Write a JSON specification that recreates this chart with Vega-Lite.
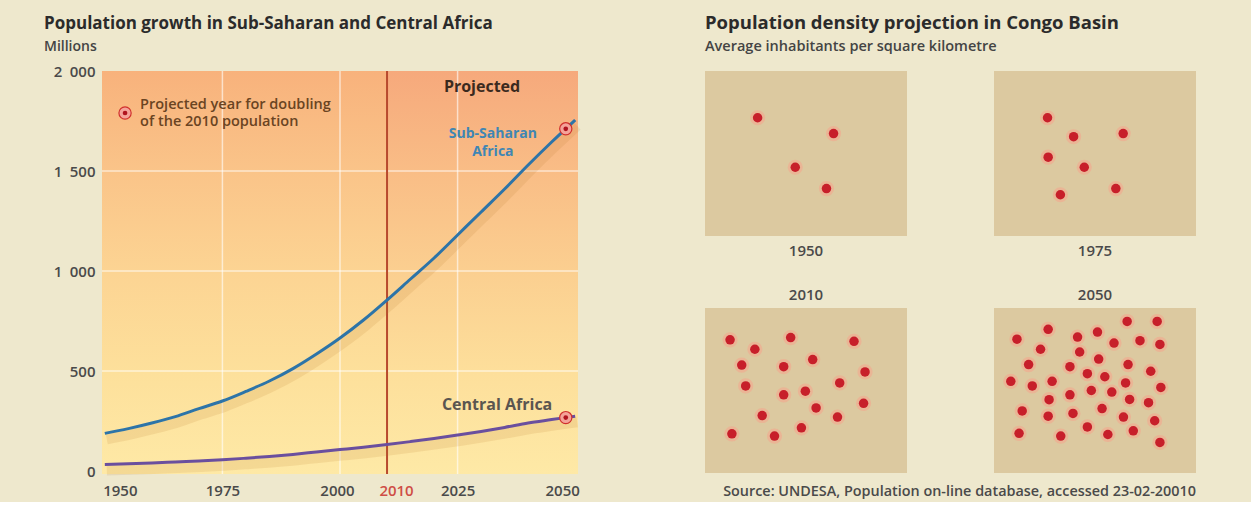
{
  "$schema": "https://vega.github.io/schema/vega-lite/v6.json",
  "background": "#eee8cd",
  "padding": {"left": 44, "top": 14, "right": 56, "bottom": 3},
  "spacing": 107,
  "config": {
    "font": "Open Sans",
    "view": {"stroke": null},
    "title": {"font": "Open Sans", "fontSize": 17, "fontWeight": "bold", "color": "#2b2b2b", "anchor": "start", "subtitleFont": "Open Sans", "subtitleFontSize": 14, "subtitleFontWeight": 600, "subtitleColor": "#444444", "subtitlePadding": 7}
  },
  "datasets": {
    "pop": [
      {"series": "Sub-Saharan Africa", "year": 1950, "value": 188},
      {"series": "Sub-Saharan Africa", "year": 1955, "value": 212},
      {"series": "Sub-Saharan Africa", "year": 1960, "value": 240},
      {"series": "Sub-Saharan Africa", "year": 1965, "value": 272},
      {"series": "Sub-Saharan Africa", "year": 1970, "value": 312},
      {"series": "Sub-Saharan Africa", "year": 1975, "value": 350},
      {"series": "Sub-Saharan Africa", "year": 1980, "value": 398},
      {"series": "Sub-Saharan Africa", "year": 1985, "value": 450},
      {"series": "Sub-Saharan Africa", "year": 1990, "value": 512},
      {"series": "Sub-Saharan Africa", "year": 1995, "value": 585},
      {"series": "Sub-Saharan Africa", "year": 2000, "value": 665},
      {"series": "Sub-Saharan Africa", "year": 2005, "value": 755},
      {"series": "Sub-Saharan Africa", "year": 2010, "value": 855},
      {"series": "Sub-Saharan Africa", "year": 2015, "value": 960},
      {"series": "Sub-Saharan Africa", "year": 2020, "value": 1065},
      {"series": "Sub-Saharan Africa", "year": 2025, "value": 1180},
      {"series": "Sub-Saharan Africa", "year": 2030, "value": 1295},
      {"series": "Sub-Saharan Africa", "year": 2035, "value": 1410},
      {"series": "Sub-Saharan Africa", "year": 2040, "value": 1530},
      {"series": "Sub-Saharan Africa", "year": 2045, "value": 1645},
      {"series": "Sub-Saharan Africa", "year": 2050, "value": 1755},
      {"series": "Central Africa", "year": 1950, "value": 33},
      {"series": "Central Africa", "year": 1955, "value": 36},
      {"series": "Central Africa", "year": 1960, "value": 40},
      {"series": "Central Africa", "year": 1965, "value": 45},
      {"series": "Central Africa", "year": 1970, "value": 50},
      {"series": "Central Africa", "year": 1975, "value": 56},
      {"series": "Central Africa", "year": 1980, "value": 64},
      {"series": "Central Africa", "year": 1985, "value": 73},
      {"series": "Central Africa", "year": 1990, "value": 83},
      {"series": "Central Africa", "year": 1995, "value": 95},
      {"series": "Central Africa", "year": 2000, "value": 107},
      {"series": "Central Africa", "year": 2005, "value": 119},
      {"series": "Central Africa", "year": 2010, "value": 132},
      {"series": "Central Africa", "year": 2015, "value": 147},
      {"series": "Central Africa", "year": 2020, "value": 163},
      {"series": "Central Africa", "year": 2025, "value": 180},
      {"series": "Central Africa", "year": 2030, "value": 198},
      {"series": "Central Africa", "year": 2035, "value": 218},
      {"series": "Central Africa", "year": 2040, "value": 240},
      {"series": "Central Africa", "year": 2045, "value": 257},
      {"series": "Central Africa", "year": 2050, "value": 274}
    ],
    "dots": [
      {"year": 1950, "kx": 57.3, "ky": 51}, {"year": 1950, "kx": 140, "ky": 68.3}, {"year": 1950, "kx": 98.3, "ky": 105}, {"year": 1950, "kx": 132.3, "ky": 128.3},
      {"year": 1975, "kx": 58.3, "ky": 51}, {"year": 1975, "kx": 86.7, "ky": 71.7}, {"year": 1975, "kx": 140.7, "ky": 68.3}, {"year": 1975, "kx": 59, "ky": 94}, {"year": 1975, "kx": 98.3, "ky": 105}, {"year": 1975, "kx": 72.3, "ky": 135}, {"year": 1975, "kx": 132.7, "ky": 128.3},
      {"year": 2010, "kx": 27.3, "ky": 34.7}, {"year": 2010, "kx": 93.3, "ky": 32.3}, {"year": 2010, "kx": 162.3, "ky": 36.3}, {"year": 2010, "kx": 54.3, "ky": 45}, {"year": 2010, "kx": 40, "ky": 62.3}, {"year": 2010, "kx": 85.7, "ky": 64}, {"year": 2010, "kx": 117.3, "ky": 56.3}, {"year": 2010, "kx": 174.3, "ky": 69.7}, {"year": 2010, "kx": 44.3, "ky": 85}, {"year": 2010, "kx": 146.7, "ky": 81.7}, {"year": 2010, "kx": 85.7, "ky": 94.7}, {"year": 2010, "kx": 109.3, "ky": 90.7}, {"year": 2010, "kx": 172.7, "ky": 104}, {"year": 2010, "kx": 121, "ky": 109}, {"year": 2010, "kx": 62.3, "ky": 117.3}, {"year": 2010, "kx": 144.3, "ky": 119}, {"year": 2010, "kx": 29.3, "ky": 137.3}, {"year": 2010, "kx": 75.7, "ky": 139.7}, {"year": 2010, "kx": 105, "ky": 130.7},
      {"year": 2050, "kx": 145, "ky": 14.7}, {"year": 2050, "kx": 177.7, "ky": 14.7}, {"year": 2050, "kx": 59, "ky": 23.3}, {"year": 2050, "kx": 25, "ky": 34}, {"year": 2050, "kx": 91, "ky": 31.7}, {"year": 2050, "kx": 112.7, "ky": 26.3}, {"year": 2050, "kx": 130.7, "ky": 38.3}, {"year": 2050, "kx": 159, "ky": 35.7}, {"year": 2050, "kx": 180.7, "ky": 39.7}, {"year": 2050, "kx": 50.7, "ky": 45}, {"year": 2050, "kx": 93.3, "ky": 48}, {"year": 2050, "kx": 37.7, "ky": 61.7}, {"year": 2050, "kx": 114, "ky": 55.7}, {"year": 2050, "kx": 82.7, "ky": 64}, {"year": 2050, "kx": 146, "ky": 61.7}, {"year": 2050, "kx": 170.7, "ky": 69}, {"year": 2050, "kx": 18.3, "ky": 80}, {"year": 2050, "kx": 41.7, "ky": 85}, {"year": 2050, "kx": 63.3, "ky": 80}, {"year": 2050, "kx": 101.7, "ky": 71.7}, {"year": 2050, "kx": 120.7, "ky": 75}, {"year": 2050, "kx": 143.3, "ky": 81.7}, {"year": 2050, "kx": 181.7, "ky": 86.7}, {"year": 2050, "kx": 60, "ky": 100}, {"year": 2050, "kx": 82.7, "ky": 94.7}, {"year": 2050, "kx": 106, "ky": 90}, {"year": 2050, "kx": 128.3, "ky": 91.7}, {"year": 2050, "kx": 147.7, "ky": 99.7}, {"year": 2050, "kx": 168.3, "ky": 103.3}, {"year": 2050, "kx": 30.7, "ky": 112.3}, {"year": 2050, "kx": 59, "ky": 118}, {"year": 2050, "kx": 86, "ky": 115}, {"year": 2050, "kx": 117.7, "ky": 109.7}, {"year": 2050, "kx": 141, "ky": 119}, {"year": 2050, "kx": 175, "ky": 123}, {"year": 2050, "kx": 27.3, "ky": 136.7}, {"year": 2050, "kx": 72.7, "ky": 139.7}, {"year": 2050, "kx": 101.7, "ky": 129.7}, {"year": 2050, "kx": 124, "ky": 138}, {"year": 2050, "kx": 151.7, "ky": 134}, {"year": 2050, "kx": 180.7, "ky": 146.7}
    ]
  },
  "hconcat": [
    {
      "title": {"text": "Population growth in Sub-Saharan and Central Africa", "subtitle": "Millions", "frame": "group", "dx": -58, "offset": 9},
      "width": 476,
      "height": 403,
      "layer": [
        {
          "data": {"values": [{"x1": 1949.4, "x2": 2010, "y1": -15, "y2": 2000}]},
          "mark": {"type": "rect", "fill": {"gradient": "linear", "x1": 0, "y1": 0, "x2": 0, "y2": 1, "stops": [{"offset": 0, "color": "#f8b27c"}, {"offset": 0.25, "color": "#fac489"}, {"offset": 0.5, "color": "#fcd493"}, {"offset": 0.75, "color": "#fde09b"}, {"offset": 1, "color": "#fee9a6"}]}},
          "encoding": {
            "x": {"field": "x1", "type": "quantitative", "scale": {"domain": [1949.4, 2050.6], "nice": false, "zero": false}, "title": null,
              "axis": {"values": [1950, 1975, 2000, 2010, 2025, 2050], "format": "d", "domain": false, "ticks": false, "grid": false, "labelFlush": false, "labelPadding": 9, "labelFontSize": 15, "labelFontWeight": 600, "labelFont": "Open Sans",
                "labelColor": {"condition": {"test": "datum.value == 2010", "value": "#cf4d45"}, "value": "#4a4a4a"},
                "labelOffset": {"condition": [{"test": "datum.value == 1950", "value": 15}, {"test": "datum.value == 2000", "value": -3}, {"test": "datum.value == 2010", "value": 9}, {"test": "datum.value == 2050", "value": -13}], "value": 0}}},
            "x2": {"field": "x2"},
            "y": {"field": "y1", "type": "quantitative", "scale": {"domain": [-15, 2000], "nice": false, "zero": false}, "title": null,
              "axis": {"values": [0, 500, 1000, 1500, 2000], "labelExpr": "replace(format(datum.value, ','), ',', '\u2002')", "domain": false, "ticks": false, "grid": false, "labelPadding": 7, "labelFontSize": 15, "labelFontWeight": 600, "labelFont": "Open Sans", "labelColor": "#4a4a4a"}},
            "y2": {"field": "y2"}
          }
        },
        {
          "data": {"values": [{"x1": 2010, "x2": 2050.6, "y1": -15, "y2": 2000}]},
          "mark": {"type": "rect", "fill": {"gradient": "linear", "x1": 0, "y1": 0, "x2": 0, "y2": 1, "stops": [{"offset": 0, "color": "#f6a97c"}, {"offset": 0.25, "color": "#f9bd86"}, {"offset": 0.5, "color": "#fbcf90"}, {"offset": 0.75, "color": "#fddf9b"}, {"offset": 1, "color": "#fee9a6"}]}},
          "encoding": {
            "x": {"field": "x1", "type": "quantitative", "title": null},
            "x2": {"field": "x2"},
            "y": {"field": "y1", "type": "quantitative", "title": null},
            "y2": {"field": "y2"}
          }
        },
        {
          "data": {"values": [{"v": 500}, {"v": 1000}, {"v": 1500}]},
          "mark": {"type": "rule", "color": "#ffffff", "opacity": 0.6, "strokeWidth": 1.5},
          "encoding": {"y": {"field": "v", "type": "quantitative", "title": null}}
        },
        {
          "data": {"values": [{"t": 1975}, {"t": 2000}, {"t": 2025}]},
          "mark": {"type": "rule", "color": "#ffffff", "opacity": 0.6, "strokeWidth": 1.5},
          "encoding": {"x": {"field": "t", "type": "quantitative", "title": null}}
        },
        {
          "data": {"values": [{"t": 2010}]},
          "mark": {"type": "rule", "color": "#b84a2e", "strokeWidth": 2},
          "encoding": {"x": {"field": "t", "type": "quantitative", "title": null}}
        },
        {
          "data": {"name": "pop"},
          "mark": {"type": "line", "interpolate": "monotone", "color": "#b8782e", "opacity": 0.14, "strokeWidth": 10, "yOffset": 6, "xOffset": 2},
          "encoding": {
            "x": {"field": "year", "type": "quantitative", "title": null},
            "y": {"field": "value", "type": "quantitative", "title": null},
            "detail": {"field": "series"}
          }
        },
        {
          "data": {"name": "pop"},
          "mark": {"type": "line", "interpolate": "monotone", "strokeWidth": 3},
          "encoding": {
            "x": {"field": "year", "type": "quantitative", "title": null},
            "y": {"field": "value", "type": "quantitative", "title": null},
            "color": {"field": "series", "type": "nominal", "scale": {"domain": ["Sub-Saharan Africa", "Central Africa"], "range": ["#2d74a8", "#6a4f9e"]}, "legend": null}
          }
        },
        {
          "data": {"values": [{"year": 2048, "value": 1711}, {"year": 2048, "value": 267}, {"year": 1954.3, "value": 1790}]},
          "mark": {"type": "point", "shape": "circle", "filled": true, "fill": "#f4a399", "stroke": "#d0302d", "strokeWidth": 1.2, "size": 150, "opacity": 1},
          "encoding": {
            "x": {"field": "year", "type": "quantitative", "title": null},
            "y": {"field": "value", "type": "quantitative", "title": null}
          }
        },
        {
          "data": {"values": [{"year": 2048, "value": 1711}, {"year": 2048, "value": 267}, {"year": 1954.3, "value": 1790}]},
          "mark": {"type": "point", "shape": "circle", "filled": true, "fill": "#b0141f", "size": 22, "opacity": 1},
          "encoding": {
            "x": {"field": "year", "type": "quantitative", "title": null},
            "y": {"field": "value", "type": "quantitative", "title": null}
          }
        },
        {
          "data": {"values": [{"label": "Projected", "year": 2030.2, "value": 1920}]},
          "mark": {"type": "text", "fontSize": 16, "fontWeight": "bold", "color": "#3b2a1e", "baseline": "middle", "align": "center"},
          "encoding": {
            "x": {"field": "year", "type": "quantitative", "title": null},
            "y": {"field": "value", "type": "quantitative", "title": null},
            "text": {"field": "label"}
          }
        },
        {
          "data": {"values": [{"label": "Sub-Saharan|Africa", "year": 2032.5, "value": 1685}]},
          "mark": {"type": "text", "fontSize": 14, "fontWeight": "bold", "color": "#3f86b4", "baseline": "middle", "align": "center", "lineBreak": "|", "lineHeight": 17.5},
          "encoding": {
            "x": {"field": "year", "type": "quantitative", "title": null},
            "y": {"field": "value", "type": "quantitative", "title": null},
            "text": {"field": "label"}
          }
        },
        {
          "data": {"values": [{"label": "Central Africa", "year": 2033.4, "value": 330}]},
          "mark": {"type": "text", "fontSize": 16, "fontWeight": "bold", "color": "#5a5550", "baseline": "middle", "align": "center"},
          "encoding": {
            "x": {"field": "year", "type": "quantitative", "title": null},
            "y": {"field": "value", "type": "quantitative", "title": null},
            "text": {"field": "label"}
          }
        },
        {
          "data": {"values": [{"label": "Projected year for doubling", "year": 1957.5, "value": 1830}, {"label": "of the 2010 population", "year": 1957.5, "value": 1745}]},
          "mark": {"type": "text", "fontSize": 14.5, "fontWeight": 600, "color": "#6a4422", "baseline": "middle", "align": "left"},
          "encoding": {
            "x": {"field": "year", "type": "quantitative", "title": null},
            "y": {"field": "value", "type": "quantitative", "title": null},
            "text": {"field": "label"}
          }
        }
      ]
    },
    {
      "title": {"text": "Population density projection in Congo Basin", "subtitle": "Average inhabitants per square kilometre", "frame": "bounds", "offset": 18, "fontSize": 18.5, "subtitleFontSize": 14.5},
      "spacing": 29,
      "vconcat": [
        {
          "spacing": 87,
          "hconcat": [
            {
              "width": 202, "height": 165,
              "view": {"fill": "#dcc9a0", "stroke": null},
              "title": {"text": "1950", "orient": "bottom", "anchor": "middle", "fontSize": 15, "fontWeight": 600, "color": "#4a4a4a", "offset": 8},
              "data": {"name": "dots"},
              "transform": [{"filter": "datum.year == 1950"}],
              "layer": [
                {"mark": {"type": "circle", "color": "#f5a48c", "opacity": 0.55, "size": 230}, "encoding": {"x": {"field": "kx", "type": "quantitative", "scale": {"domain": [0, 202]}, "axis": null}, "y": {"field": "ky", "type": "quantitative", "scale": {"domain": [0, 165], "reverse": true}, "axis": null}}},
                {"mark": {"type": "circle", "color": "#c71f2a", "opacity": 1, "size": 90}, "encoding": {"x": {"field": "kx", "type": "quantitative", "axis": null}, "y": {"field": "ky", "type": "quantitative", "axis": null}}}
              ]
            },
            {
              "width": 202, "height": 165,
              "view": {"fill": "#dcc9a0", "stroke": null},
              "title": {"text": "1975", "orient": "bottom", "anchor": "middle", "fontSize": 15, "fontWeight": 600, "color": "#4a4a4a", "offset": 8},
              "data": {"name": "dots"},
              "transform": [{"filter": "datum.year == 1975"}],
              "layer": [
                {"mark": {"type": "circle", "color": "#f5a48c", "opacity": 0.55, "size": 230}, "encoding": {"x": {"field": "kx", "type": "quantitative", "scale": {"domain": [0, 202]}, "axis": null}, "y": {"field": "ky", "type": "quantitative", "scale": {"domain": [0, 165], "reverse": true}, "axis": null}}},
                {"mark": {"type": "circle", "color": "#c71f2a", "opacity": 1, "size": 90}, "encoding": {"x": {"field": "kx", "type": "quantitative", "axis": null}, "y": {"field": "ky", "type": "quantitative", "axis": null}}}
              ]
            }
          ]
        },
        {
          "spacing": 87,
          "title": {"text": "Source: UNDESA, Population on-line database, accessed 23-02-20010", "orient": "bottom", "anchor": "end", "fontSize": 14.4, "fontWeight": 600, "color": "#4a4a4a", "offset": 12},
          "hconcat": [
            {
              "width": 202, "height": 165,
              "view": {"fill": "#dcc9a0", "stroke": null},
              "title": {"text": "2010", "orient": "top", "anchor": "middle", "fontSize": 15, "fontWeight": 600, "color": "#4a4a4a", "offset": 5},
              "data": {"name": "dots"},
              "transform": [{"filter": "datum.year == 2010"}],
              "layer": [
                {"mark": {"type": "circle", "color": "#f5a48c", "opacity": 0.55, "size": 230}, "encoding": {"x": {"field": "kx", "type": "quantitative", "scale": {"domain": [0, 202]}, "axis": null}, "y": {"field": "ky", "type": "quantitative", "scale": {"domain": [0, 165], "reverse": true}, "axis": null}}},
                {"mark": {"type": "circle", "color": "#c71f2a", "opacity": 1, "size": 90}, "encoding": {"x": {"field": "kx", "type": "quantitative", "axis": null}, "y": {"field": "ky", "type": "quantitative", "axis": null}}}
              ]
            },
            {
              "width": 202, "height": 165,
              "view": {"fill": "#dcc9a0", "stroke": null},
              "title": {"text": "2050", "orient": "top", "anchor": "middle", "fontSize": 15, "fontWeight": 600, "color": "#4a4a4a", "offset": 5},
              "data": {"name": "dots"},
              "transform": [{"filter": "datum.year == 2050"}],
              "layer": [
                {"mark": {"type": "circle", "color": "#f5a48c", "opacity": 0.55, "size": 230}, "encoding": {"x": {"field": "kx", "type": "quantitative", "scale": {"domain": [0, 202]}, "axis": null}, "y": {"field": "ky", "type": "quantitative", "scale": {"domain": [0, 165], "reverse": true}, "axis": null}}},
                {"mark": {"type": "circle", "color": "#c71f2a", "opacity": 1, "size": 90}, "encoding": {"x": {"field": "kx", "type": "quantitative", "axis": null}, "y": {"field": "ky", "type": "quantitative", "axis": null}}}
              ]
            }
          ]
        }
      ]
    }
  ]
}
